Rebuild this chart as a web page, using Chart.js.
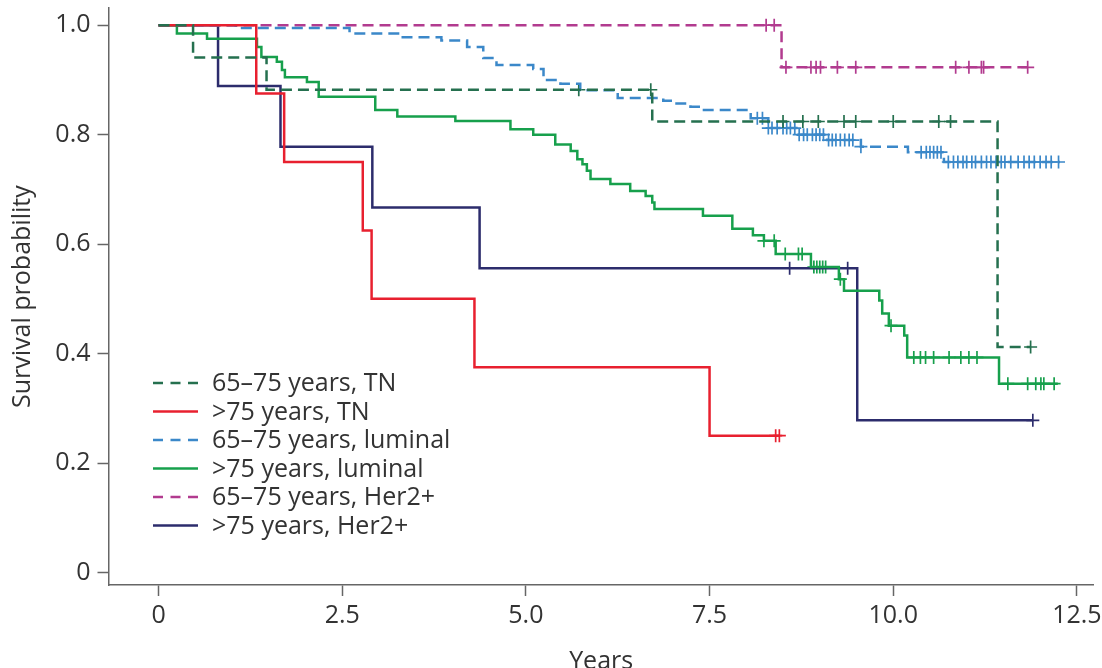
<!DOCTYPE html>
<html lang="en">
<head>
    <meta charset="UTF-8">
    <title>Survival by age group and subtype</title>
    <script src="https://cdn.jsdelivr.net/npm/chart.js@4.4.1/dist/chart.umd.min.js"></script>
    <style>
        html, body {
            margin: 0;
            padding: 0;
            background: #ffffff;
        }
        .chart-wrapper {
            position: relative;
            width: 1102px;
            height: 668px;
        }
    </style>
</head>
<body>
    <div class="chart-wrapper">
        <canvas id="kmChart"></canvas>
    </div>

    <script>
        // Series labels (legend order)
        const seriesLabels = [
            '65\u201375 years, TN',
            '>75 years, TN',
            '65\u201375 years, luminal',
            '>75 years, luminal',
            '65\u201375 years, Her2+',
            '>75 years, Her2+'
        ];

        // 65-75 years, TN
        const tn6575Times = [0, 0.47, 1.47, 6.72, 11.42, 11.87];
        const tn6575Surv = [1, 0.941, 0.882, 0.824, 0.412, 0.412];
        const tn6575Censor = [5.72, 6.70, 8.50, 8.77, 8.98, 9.33, 9.49, 10.0, 10.62, 10.78, 11.87];

        // >75 years, TN
        const tn75Times = [0, 1.33, 1.71, 2.78, 2.90, 4.30, 7.50, 8.45];
        const tn75Surv = [1, 0.875, 0.75, 0.625, 0.5, 0.375, 0.25, 0.25];
        const tn75Censor = [8.40, 8.45];

        // 65-75 years, luminal
        const lum6575Times = [0, 1.05, 2.60, 3.30, 3.85, 4.20, 4.42, 4.60, 5.10, 5.24, 5.47, 5.74, 6.25,
            6.87, 7.00, 7.24, 7.38, 8.06, 8.30, 8.70, 9.10, 9.56, 10.20, 10.69, 12.27];
        const lum6575Surv = [1, 0.995, 0.985, 0.978, 0.972, 0.96, 0.94, 0.927, 0.92, 0.90, 0.893, 0.881, 0.867,
            0.862, 0.857, 0.851, 0.845, 0.83, 0.812, 0.80, 0.79, 0.778, 0.768, 0.75, 0.75];
        const lum6575Censor = [8.15, 8.22, 8.30, 8.35, 8.42, 8.50, 8.55, 8.60, 8.66, 8.72, 8.78, 8.83, 8.90,
            8.95, 9.00, 9.05, 9.12, 9.17, 9.22, 9.28, 9.34, 9.40, 9.45, 9.56,
            10.38, 10.45, 10.50, 10.55, 10.60, 10.65,
            10.75, 10.82, 10.88, 10.95, 11.00, 11.07, 11.12, 11.20, 11.27, 11.33, 11.40, 11.47,
            11.52, 11.60, 11.70, 11.78, 11.85, 11.92, 12.00, 12.08, 12.15, 12.25];

        // >75 years, luminal
        const lum75Times = [0, 0.25, 0.66, 1.34, 1.40, 1.61, 1.68, 1.72, 2.02, 2.18, 2.95, 3.25, 4.04, 4.79,
            5.10, 5.40, 5.61, 5.70, 5.77, 5.83, 5.88, 6.15, 6.42, 6.63, 6.72, 6.75, 7.41, 7.81, 8.09,
            8.24, 8.40, 8.88, 9.26, 9.33, 9.81, 9.85, 9.94, 10.15, 10.19, 11.44, 12.24];
        const lum75Surv = [1, 0.985, 0.975, 0.96, 0.942, 0.933, 0.918, 0.905, 0.896, 0.869, 0.845, 0.833, 0.825, 0.81,
            0.80, 0.782, 0.77, 0.755, 0.746, 0.734, 0.719, 0.71, 0.697, 0.688, 0.676, 0.664, 0.652, 0.628, 0.616,
            0.606, 0.582, 0.558, 0.536, 0.515, 0.497, 0.473, 0.451, 0.433, 0.393, 0.345, 0.345];
        const lum75Censor = [8.24, 8.38, 8.53, 8.71, 8.76, 8.92, 8.96, 9.00, 9.04, 9.08, 9.28, 9.97,
            10.28, 10.37, 10.44, 10.55, 10.76, 10.92, 11.03, 11.14,
            11.56, 11.83, 11.94, 12.01, 12.05, 12.19];

        // 65-75 years, Her2+
        const her6575Times = [0, 8.48, 11.83];
        const her6575Surv = [1, 0.923, 0.923];
        const her6575Censor = [8.27, 8.38, 8.54, 8.88, 8.95, 9.01, 9.24, 9.49, 10.85, 11.03, 11.20, 11.23, 11.83];

        // >75 years, Her2+
        const her75Times = [0, 0.81, 1.66, 2.91, 4.37, 9.51, 11.90];
        const her75Surv = [1, 0.889, 0.778, 0.667, 0.556, 0.278, 0.278];
        const her75Censor = [8.59, 9.38, 11.90];

        // Axis ticks
        const xTicks = [0, 2.5, 5, 7.5, 10, 12.5];
        const xTickLabels = ['0', '2.5', '5.0', '7.5', '10.0', '12.5'];
        const yTicks = [0, 0.2, 0.4, 0.6, 0.8, 1.0];
        const yTickLabels = ['0', '0.2', '0.4', '0.6', '0.8', '1.0'];

        const colors = ['#25704f', '#e8202f', '#3b88c9', '#17a04c', '#b23b8f', '#2c2c6c'];
        const dashed = [true, false, true, false, true, false];

        // helpers
        function toSteps(times, surv) {
            return times.map((t, i) => ({ x: t, y: surv[i] }));
        }
        function survAt(times, surv, t) {
            let s = surv[0];
            for (let i = 0; i < times.length; i++) {
                if (times[i] <= t) s = surv[i];
            }
            return s;
        }
        function toCensor(times, surv, censor) {
            return censor.map(t => ({ x: t, y: survAt(times, surv, t) }));
        }

        const groups = [
            [tn6575Times, tn6575Surv, tn6575Censor],
            [tn75Times, tn75Surv, tn75Censor],
            [lum6575Times, lum6575Surv, lum6575Censor],
            [lum75Times, lum75Surv, lum75Censor],
            [her6575Times, her6575Surv, her6575Censor],
            [her75Times, her75Surv, her75Censor]
        ];

        const lineSets = groups.map((g, i) => ({
            type: 'line',
            label: seriesLabels[i],
            data: toSteps(g[0], g[1]),
            borderColor: colors[i],
            borderWidth: 2.5,
            borderDash: dashed[i] ? [11, 6] : [],
            stepped: 'before',
            pointRadius: 0,
            fill: false,
            isCurve: true
        }));

        const censorSets = groups.map((g, i) => ({
            type: 'scatter',
            label: seriesLabels[i] + ' censored',
            data: toCensor(g[0], g[1], g[2]),
            borderColor: colors[i],
            backgroundColor: colors[i],
            pointStyle: 'cross',
            pointRadius: 6.5,
            pointBorderWidth: 1.7,
            showLine: false
        }));

        // legend drawn inside the plot, lower left
        const insideLegend = {
            id: 'insideLegend',
            afterDraw(chart) {
                const ctx = chart.ctx;
                const area = chart.chartArea;
                const left = area.left + 44.5;
                const top = area.top + 374.7;
                const rowH = 28.5;
                ctx.save();
                ctx.font = '25px "Open Sans"';
                ctx.textBaseline = 'middle';
                ctx.fillStyle = '#333333';
                chart.data.datasets.filter(d => d.isCurve).forEach((d, i) => {
                    const y = top + i * rowH;
                    ctx.strokeStyle = d.borderColor;
                    ctx.lineWidth = 2.5;
                    ctx.setLineDash(d.borderDash.length ? [10, 7.5] : []);
                    ctx.beginPath();
                    ctx.moveTo(left, y);
                    ctx.lineTo(left + 45, y);
                    ctx.stroke();
                    ctx.setLineDash([]);
                    ctx.fillText(d.label, left + 59, y + 1);
                });
                ctx.restore();
            }
        };

        const axisColor = '#666666';
        const textColor = '#333333';

        new Chart(document.getElementById('kmChart'), {
            type: 'line',
            data: {
                datasets: [...lineSets, ...censorSets]
            },
            options: {
                responsive: true,
                maintainAspectRatio: false,
                animation: false,
                layout: {
                    padding: { top: 7, right: 0, left: 0, bottom: 0 }
                },
                plugins: {
                    legend: { display: false },
                    tooltip: { enabled: false }
                },
                scales: {
                    x: {
                        type: 'linear',
                        min: -0.681,
                        max: 12.73,
                        afterFit: function(scale) {
                            scale.height = 83;
                            scale.paddingLeft = 0;
                            scale.paddingRight = 0;
                        },
                        afterBuildTicks: function(scale) {
                            scale.ticks = xTicks.map(v => ({ value: v }));
                        },
                        ticks: {
                            autoSkip: false,
                            maxRotation: 0,
                            padding: 5,
                            color: textColor,
                            font: { family: 'Open Sans', size: 25 },
                            callback: function(value, index) { return xTickLabels[index]; }
                        },
                        grid: {
                            display: true,
                            drawOnChartArea: false,
                            drawTicks: true,
                            tickLength: 11,
                            tickColor: axisColor,
                            tickWidth: 1.5
                        },
                        border: { display: true, color: axisColor, width: 1.5 },
                        title: {
                            display: true,
                            text: 'Years',
                            color: textColor,
                            font: { family: 'Open Sans', size: 25 },
                            padding: { top: 0, bottom: -8.5 }
                        }
                    },
                    y: {
                        type: 'linear',
                        min: -0.0228,
                        max: 1.031,
                        afterFit: function(scale) {
                            scale.width = 108.5;
                            scale.paddingTop = 0;
                            scale.paddingBottom = 0;
                        },
                        afterBuildTicks: function(scale) {
                            scale.ticks = yTicks.map(v => ({ value: v }));
                        },
                        ticks: {
                            autoSkip: false,
                            padding: 7,
                            color: textColor,
                            font: { family: 'Open Sans', size: 25 },
                            callback: function(value, index) { return yTickLabels[index]; }
                        },
                        grid: {
                            display: true,
                            drawOnChartArea: false,
                            drawTicks: true,
                            tickLength: 11,
                            tickColor: axisColor,
                            tickWidth: 1.5
                        },
                        border: { display: true, color: axisColor, width: 1.5 },
                        title: {
                            display: true,
                            text: 'Survival probability',
                            color: textColor,
                            font: { family: 'Open Sans', size: 25 },
                            padding: { top: 8, bottom: 0 }
                        }
                    }
                }
            },
            plugins: [insideLegend]
        });
    </script>
</body>
</html>
